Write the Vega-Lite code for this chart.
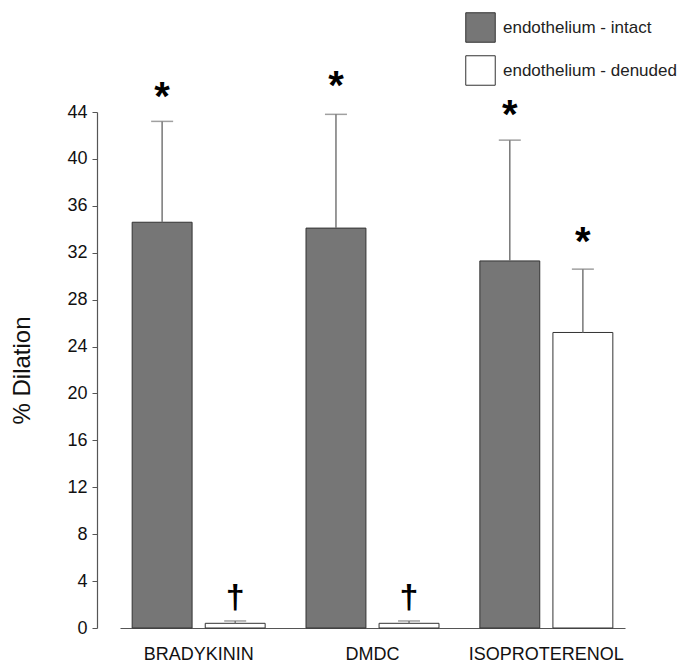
{
  "$schema": "https://vega.github.io/schema/vega-lite/v6.json",
  "autosize": "none",
  "width": 505,
  "height": 516,
  "padding": {"left": 120, "top": 112, "right": 72, "bottom": 41},
  "background": "white",
  "config": {
    "view": {"stroke": null},
    "font": "Liberation Sans",
    "axis": {"labelFont": "Liberation Sans", "titleFont": "Liberation Sans", "grid": false}
  },
  "datasets": {
    "bars": [
      {"agent": "BRADYKININ", "cond": "endothelium - intact", "value": 34.6, "upper": 43.2},
      {"agent": "BRADYKININ", "cond": "endothelium - denuded", "value": 0.4, "upper": 0.6},
      {"agent": "DMDC", "cond": "endothelium - intact", "value": 34.1, "upper": 43.8},
      {"agent": "DMDC", "cond": "endothelium - denuded", "value": 0.4, "upper": 0.6},
      {"agent": "ISOPROTERENOL", "cond": "endothelium - intact", "value": 31.3, "upper": 41.6},
      {"agent": "ISOPROTERENOL", "cond": "endothelium - denuded", "value": 25.2, "upper": 30.6}
    ],
    "marks": [
      {"agent": "BRADYKININ", "cond": "endothelium - intact", "pos": 45.2, "sym": "*"},
      {"agent": "BRADYKININ", "cond": "endothelium - denuded", "pos": 2.6, "sym": "†"},
      {"agent": "DMDC", "cond": "endothelium - intact", "pos": 46.1, "sym": "*"},
      {"agent": "DMDC", "cond": "endothelium - denuded", "pos": 2.6, "sym": "†"},
      {"agent": "ISOPROTERENOL", "cond": "endothelium - intact", "pos": 43.7, "sym": "*"},
      {"agent": "ISOPROTERENOL", "cond": "endothelium - denuded", "pos": 32.8, "sym": "*"}
    ]
  },
  "encoding": {
    "x": {
      "field": "agent", "type": "nominal", "sort": null,
      "scale": {"paddingInner": 0.235, "paddingOuter": 0.07},
      "axis": {
        "title": null, "labelAngle": 0, "ticks": false, "domainColor": "#555", "domainWidth": 1.2,
        "labelFontSize": 18, "labelColor": "#111", "labelPadding": 17
      }
    },
    "xOffset": {
      "field": "cond", "type": "nominal", "sort": ["endothelium - intact", "endothelium - denuded"],
      "scale": {"paddingInner": 0.18, "paddingOuter": 0}
    }
  },
  "layer": [
    {
      "data": {"name": "bars"},
      "mark": {"type": "bar", "stroke": "#333", "strokeWidth": 1},
      "encoding": {
        "y": {
          "field": "value", "type": "quantitative",
          "scale": {"domain": [0, 44], "nice": false},
          "axis": {
            "title": "% Dilation", "titleFontSize": 24, "titleFontWeight": "normal", "titleColor": "#111",
            "titlePadding": 32, "offset": 23,
            "values": [0, 2, 4, 6, 8, 10, 12, 14, 16, 18, 20, 22, 24, 26, 28, 30, 32, 34, 36, 38, 40, 42, 44],
            "labelExpr": "datum.value % 4 === 0 ? datum.label : ''",
            "tickSize": {"condition": {"test": "datum.value % 4 === 0", "value": 5}, "value": 3},
            "labelFontSize": 18, "labelColor": "#111", "labelPadding": 5,
            "domainColor": "#555", "tickColor": "#555", "domainWidth": 1.2, "tickWidth": 1
          }
        },
        "fill": {
          "field": "cond", "type": "nominal",
          "sort": ["endothelium - intact", "endothelium - denuded"],
          "scale": {"domain": ["endothelium - intact", "endothelium - denuded"], "range": ["#767676", "#ffffff"]},
          "legend": {
            "title": null, "orient": "none", "legendX": 345, "legendY": -100,
            "symbolType": "square", "symbolSize": 870, "symbolStrokeColor": "#333", "symbolStrokeWidth": 1,
            "symbolOpacity": 1, "labelFontSize": 17, "labelColor": "#222", "labelOffset": 7,
            "labelLimit": 400, "rowPadding": 8, "padding": 0
          }
        }
      }
    },
    {
      "data": {"name": "bars"},
      "mark": {"type": "rule", "color": "#777", "strokeWidth": 1.5},
      "encoding": {
        "y": {"field": "value", "type": "quantitative"},
        "y2": {"field": "upper"}
      }
    },
    {
      "data": {"name": "bars"},
      "mark": {"type": "tick", "color": "#777", "thickness": 1.5, "orient": "horizontal"},
      "encoding": {
        "y": {"field": "upper", "type": "quantitative"},
        "size": {"value": 22}
      }
    },
    {
      "data": {"name": "marks"},
      "mark": {"type": "text", "baseline": "middle", "align": "center", "fontWeight": "bold", "color": "#000"},
      "encoding": {
        "y": {"field": "pos", "type": "quantitative"},
        "text": {"field": "sym"},
        "size": {"condition": {"test": "datum.sym === '*'", "value": 40}, "value": 34}
      }
    }
  ]
}
